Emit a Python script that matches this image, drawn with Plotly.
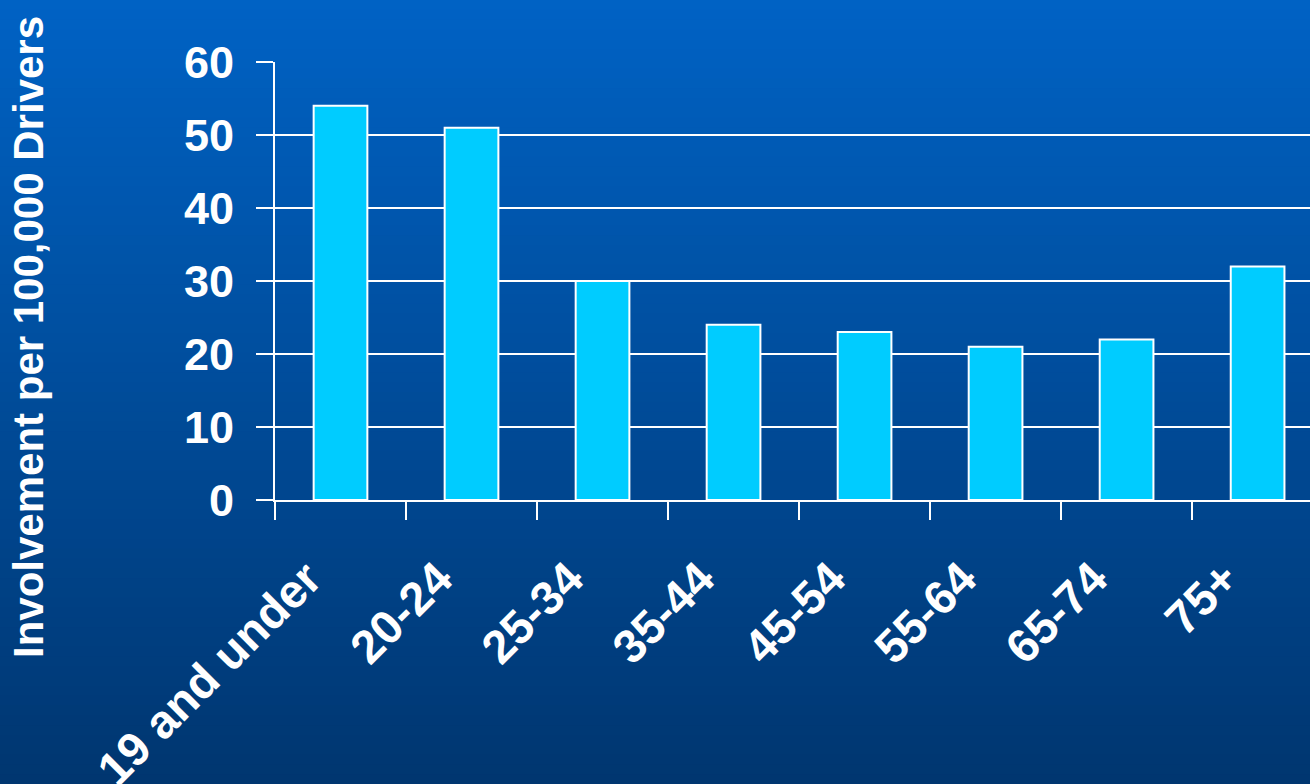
import plotly.graph_objects as go

categories = ["19 and under", "20-24", "25-34", "35-44", "45-54", "55-64", "65-74", "75+"]
values = [54, 51, 30, 24, 23, 21, 22, 32]
y_ticks = [0, 10, 20, 30, 40, 50, 60]
y_title = "Involvement per 100,000 Drivers"

W, H = 1310, 784
ML, MR, MT, MB = 275, 0, 62, 284
pw = W - ML - MR
ph = H - MT - MB

fnt = dict(family="Arial, Liberation Sans, sans-serif", color="white", weight="bold")

fig = go.Figure(go.Bar(
    x=categories, y=values, width=0.41,
    marker=dict(color="#00CCFF", line=dict(color="white", width=2)),
))

# vertical gradient background
top = (0, 98, 196)
bot = (0, 54, 112)
n = 80
shapes = []
for i in range(n):
    t = i / (n - 1)
    c = tuple(round(top[k] + (bot[k] - top[k]) * t) for k in range(3))
    y0px = H * i / n
    y1px = H * (i + 1) / n + 1
    shapes.append(dict(
        type="rect", xref="paper", yref="paper", layer="below",
        x0=-ML / pw - 0.01, x1=1.05,
        y0=1 - (y1px - MT) / ph, y1=1 - (y0px - MT) / ph,
        fillcolor="rgb(%d,%d,%d)" % c, line=dict(width=0),
    ))

fig.update_layout(
    width=W, height=H,
    margin=dict(l=ML, r=MR, t=MT, b=MB, autoexpand=False),
    paper_bgcolor="rgb(0,76,154)", plot_bgcolor="rgba(0,0,0,0)",
    shapes=shapes, showlegend=False, bargap=0.59,
    annotations=[dict(
        text=y_title, textangle=-90, showarrow=False,
        xref="paper", yref="paper", xanchor="center", yanchor="middle",
        x=(28 - ML) / pw, y=1 - (337 - MT) / ph,
        font=dict(size=42, **fnt),
    )],
)
fig.update_xaxes(
    range=[-0.5, 7.4], tickson="boundaries", ticks="outside", ticklen=18,
    tickwidth=2, tickcolor="white", showline=True, linecolor="white", linewidth=2,
    showgrid=False, tickangle=-45, tickfont=dict(size=47, **fnt),
    ticklabelstandoff=30, ticklabelshift=-33, automargin=False,
)
fig.update_yaxes(
    range=[0, 60], tickvals=y_ticks, ticks="outside", ticklen=17, tickwidth=2,
    tickcolor="white", showline=True, linecolor="white", linewidth=2,
    showgrid=True, gridcolor="white", gridwidth=2, zeroline=False,
    tickfont=dict(size=45, **fnt), ticklabelstandoff=13, automargin=False,
)

fig.write_html("out.html", config={"displayModeBar": False},
               post_script="document.body.style.margin='0';")
